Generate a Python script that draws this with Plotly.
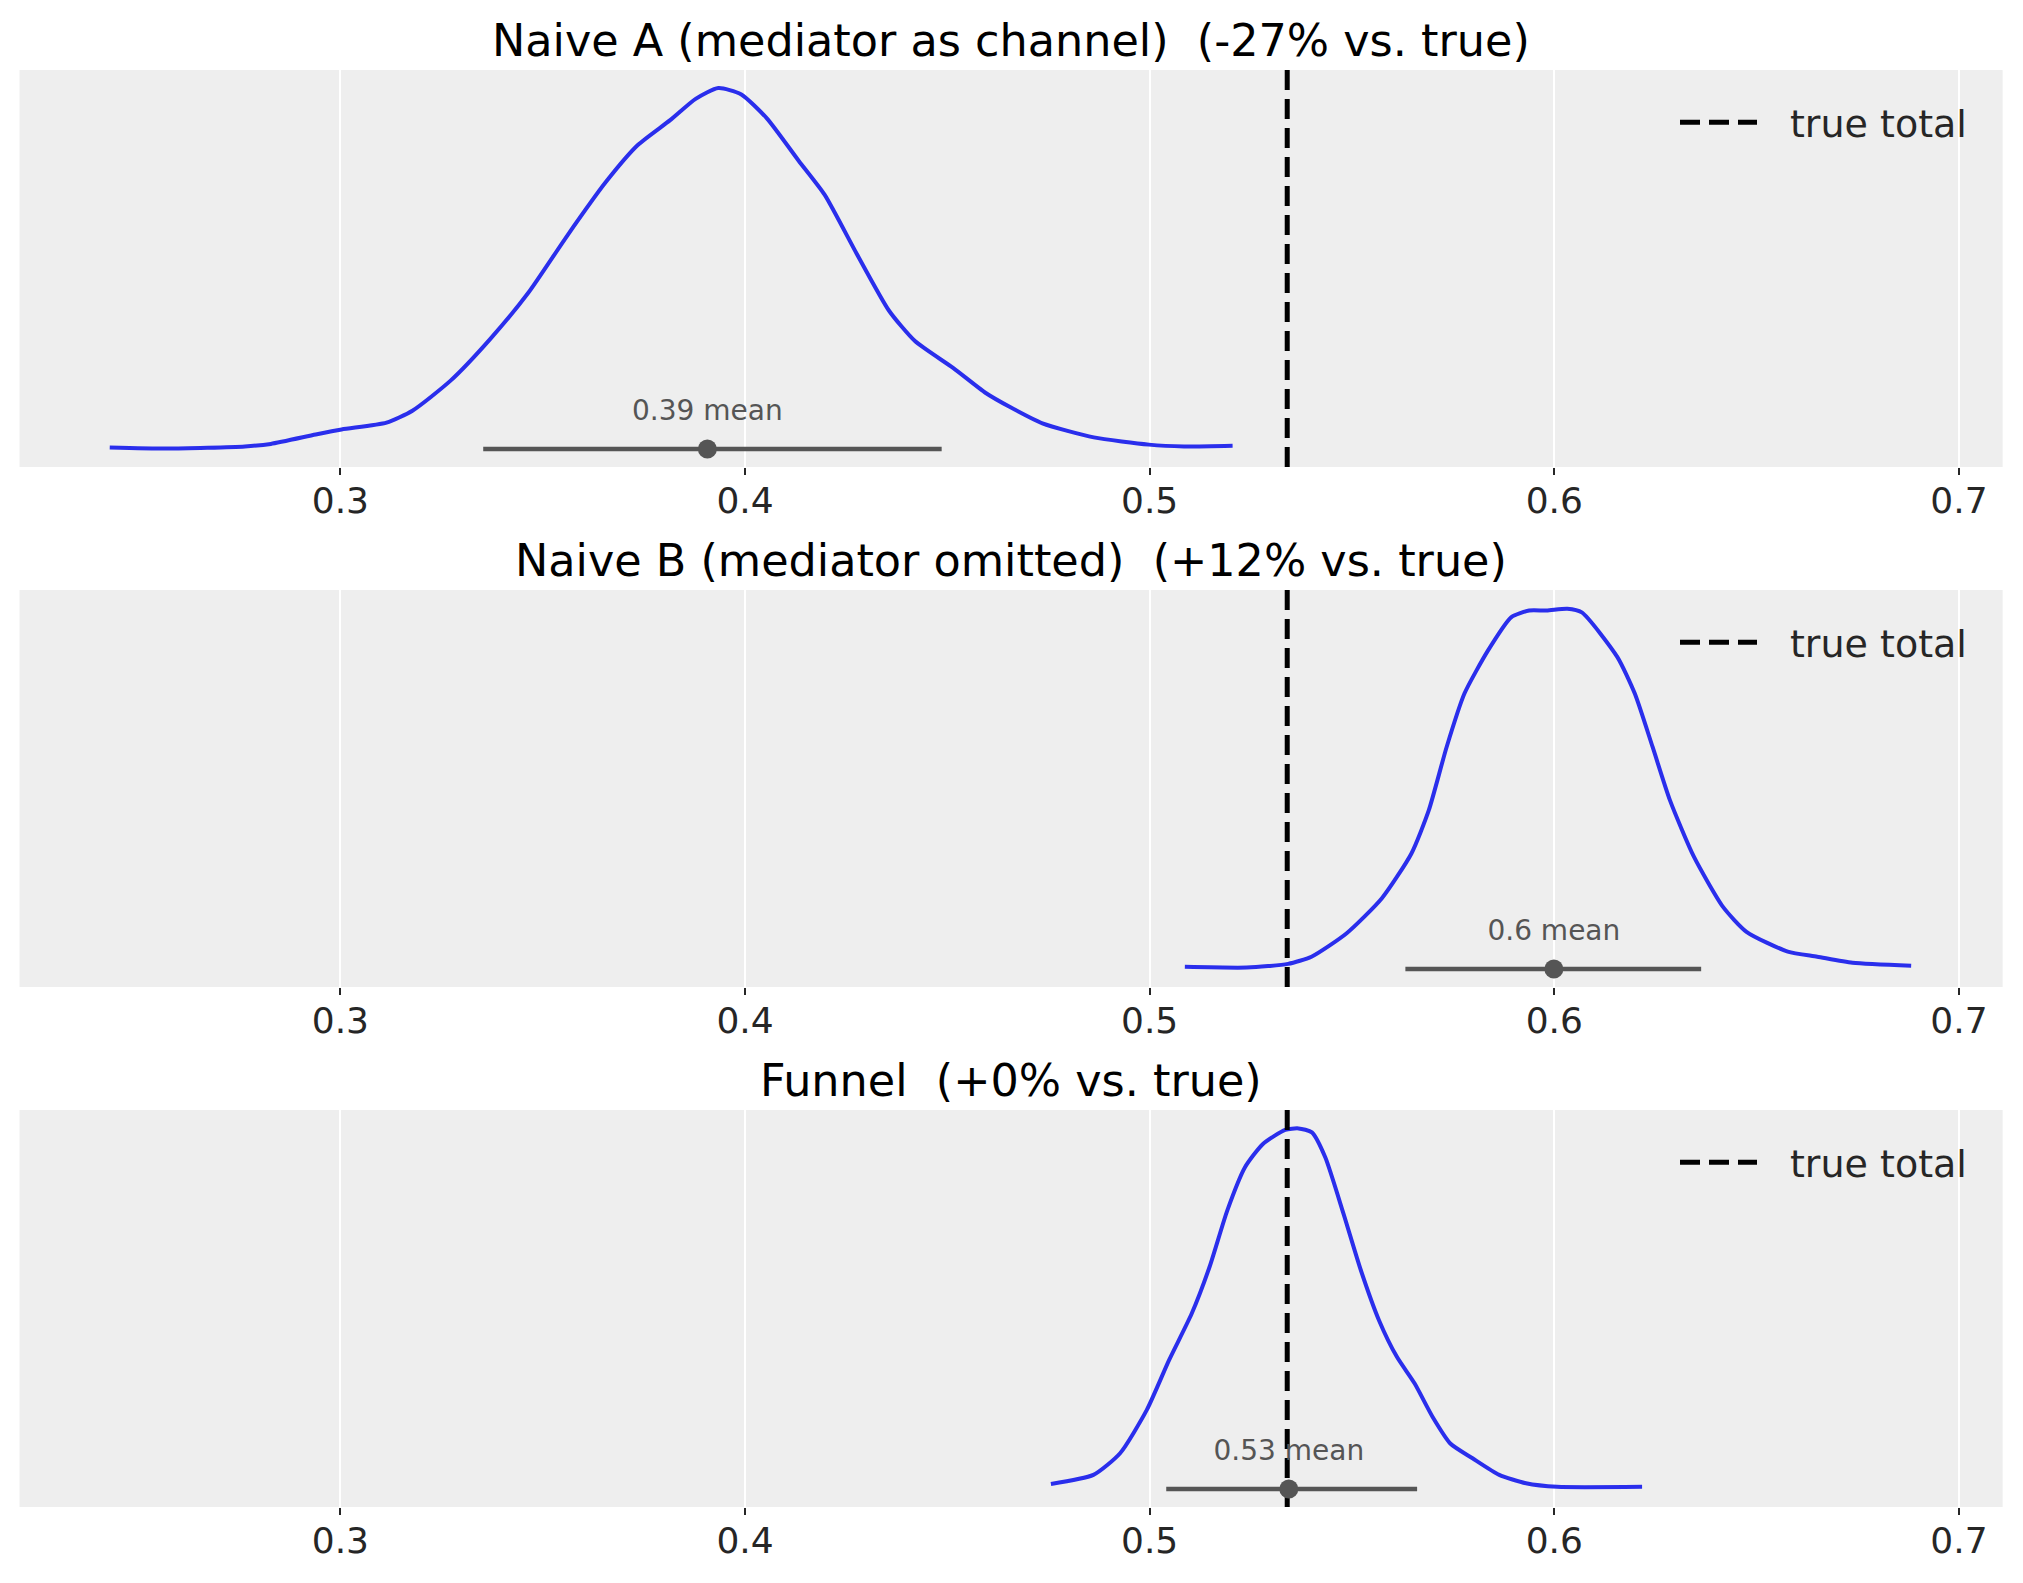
import plotly.graph_objects as go
from plotly.subplots import make_subplots

# ── data ───────────────────────────────────────────────────────────────────
TITLES = [
    "Naive A (mediator as channel)\u00a0 (-27% vs. true)",
    "Naive B (mediator omitted)\u00a0 (+12% vs. true)",
    "Funnel\u00a0 (+0% vs. true)",
]
TRUE_TOTAL = 0.534
XTICKS = [0.3, 0.4, 0.5, 0.6, 0.7]

# posterior density (relative height) - Naive A
A_X = [0.243, 0.2573, 0.2764, 0.2828, 0.2939, 0.3003, 0.3114, 0.3178, 0.3273,
       0.3369, 0.3464, 0.3560, 0.3655, 0.3735, 0.3815, 0.3878, 0.3934, 0.3990,
       0.4054, 0.4133, 0.4197, 0.4276, 0.4356, 0.4420, 0.4515, 0.4595, 0.4655,
       0.4735, 0.4862, 0.4998, 0.5085, 0.5205]
A_Y = [0.004, 0.001, 0.007, 0.014, 0.040, 0.054, 0.073, 0.106, 0.190,
       0.303, 0.432, 0.590, 0.738, 0.842, 0.911, 0.970, 1.000, 0.983,
       0.916, 0.798, 0.704, 0.541, 0.383, 0.299, 0.224, 0.155, 0.116,
       0.071, 0.032, 0.012, 0.007, 0.009]

# Naive B
B_X = [0.5087, 0.5240, 0.5342, 0.5400, 0.5487, 0.5574, 0.5647, 0.5690, 0.5734,
       0.5778, 0.5836, 0.5894, 0.5938, 0.5981, 0.6032, 0.6068, 0.6156, 0.6199,
       0.6243, 0.6286, 0.6345, 0.6417, 0.6475, 0.6577, 0.6650, 0.6737, 0.6882]
B_Y = [0.006, 0.004, 0.014, 0.034, 0.099, 0.196, 0.320, 0.440, 0.615,
       0.763, 0.882, 0.975, 0.993, 0.993, 0.998, 0.988, 0.864, 0.763,
       0.615, 0.467, 0.311, 0.172, 0.103, 0.048, 0.034, 0.017, 0.009]

# Funnel
C_X = [0.4756, 0.4861, 0.4927, 0.4993, 0.5048, 0.5104, 0.5148, 0.5192, 0.5236,
       0.5280, 0.5335, 0.5368, 0.5401, 0.5434, 0.5479, 0.5522, 0.5567, 0.5611,
       0.5655, 0.5699, 0.5743, 0.5798, 0.5864, 0.5930, 0.6007, 0.6217]
C_Y = [0.014, 0.039, 0.099, 0.219, 0.357, 0.486, 0.615, 0.772, 0.892,
       0.956, 0.995, 0.999, 0.988, 0.919, 0.763, 0.606, 0.467, 0.366,
       0.292, 0.200, 0.126, 0.085, 0.039, 0.016, 0.006, 0.006]

HDI = [[0.3353, 0.4486], [0.5632, 0.6363], [0.5041, 0.5661]]
MEANS = [0.3907, 0.5999, 0.5344]
MEAN_LABELS = ["0.39 mean", "0.6 mean", "0.53 mean"]

CURVES = [(A_X, A_Y), (B_X, B_Y), (C_X, C_Y)]

# ── styles ─────────────────────────────────────────────────────────────────
BLUE = "#2a2eec"
GREY = "#555555"
BG = "#eeeeee"
FONT = "DejaVu Sans"
Y_RANGE = [-0.05, 1.05]
X_RANGE = [0.2207, 0.7108]

# page body has an 8px margin, so the figure is sized/placed to account for it
X_DOM = [0.00571, 0.98988]
Y_DOMS = [[0.70857, 0.96063], [0.37841, 0.63048], [0.04825, 0.30032]]
LEGEND_Y = [0.92730, 0.59714, 0.26698]
LEGEND_NAMES = ["legend", "legend2", "legend3"]

fig = make_subplots(rows=3, cols=1)

for i, (xs, ys) in enumerate(CURVES):
    r = i + 1
    fig.add_trace(go.Scatter(
        x=xs, y=ys, mode="lines", line=dict(color=BLUE, width=4, shape="spline", smoothing=0.6),
        showlegend=False, hoverinfo="skip"), row=r, col=1)
    fig.add_trace(go.Scatter(
        x=[TRUE_TOTAL, TRUE_TOTAL], y=Y_RANGE, mode="lines",
        line=dict(color="black", width=5, dash="20px,9px"),
        name="\u00a0\u00a0\u200atrue total", showlegend=True, legend=LEGEND_NAMES[i]), row=r, col=1)
    fig.add_trace(go.Scatter(
        x=HDI[i], y=[0, 0], mode="lines", line=dict(color=GREY, width=4.5),
        showlegend=False, hoverinfo="skip"), row=r, col=1)
    fig.add_trace(go.Scatter(
        x=[MEANS[i]], y=[0], mode="markers", marker=dict(color=GREY, size=19),
        showlegend=False), row=r, col=1)
    fig.add_trace(go.Scatter(
        x=[MEANS[i]], y=[0.10], mode="text", text=[MEAN_LABELS[i]],
        textposition="middle center", textfont=dict(family=FONT, size=28, color=GREY),
        showlegend=False, hoverinfo="skip"), row=r, col=1)

    xa = "xaxis" if r == 1 else f"xaxis{r}"
    ya = "yaxis" if r == 1 else f"yaxis{r}"
    fig.update_layout({
        xa: dict(domain=X_DOM, range=X_RANGE, tickvals=XTICKS,
                 ticktext=[f"{t:g}" for t in XTICKS],
                 showgrid=True, gridcolor="white", gridwidth=2,
                 zeroline=False, showline=False,
                 ticks="outside", ticklen=7, tickwidth=2, tickcolor="#262626",
                 ticklabelstandoff=-5,
                 tickfont=dict(family=FONT, size=36, color="#262626")),
        ya: dict(domain=Y_DOMS[i], range=Y_RANGE, showgrid=False, zeroline=False,
                 showticklabels=False, ticks="", showline=False),
    })
    fig.update_layout({
        LEGEND_NAMES[i]: dict(
            x=0.97469, xanchor="right", y=LEGEND_Y[i], yanchor="middle",
            bgcolor="rgba(0,0,0,0)", borderwidth=0, itemwidth=77,
            font=dict(family=FONT, size=38, color="#262626")),
    })
    fig.add_annotation(
        text=TITLES[i], xref=f"x{'' if r == 1 else r} domain", yref=f"y{'' if r == 1 else r} domain",
        x=0.5, y=1, xanchor="center", yanchor="bottom", yshift=2, showarrow=False,
        font=dict(family=FONT, size=44.5, color="black"))

fig.update_layout(
    width=2015, height=1575,
    margin=dict(l=0, r=0, t=0, b=0),
    paper_bgcolor="white",
    plot_bgcolor=BG,
    font=dict(family=FONT, color="#262626"),
)

fig.write_html("out.html")
